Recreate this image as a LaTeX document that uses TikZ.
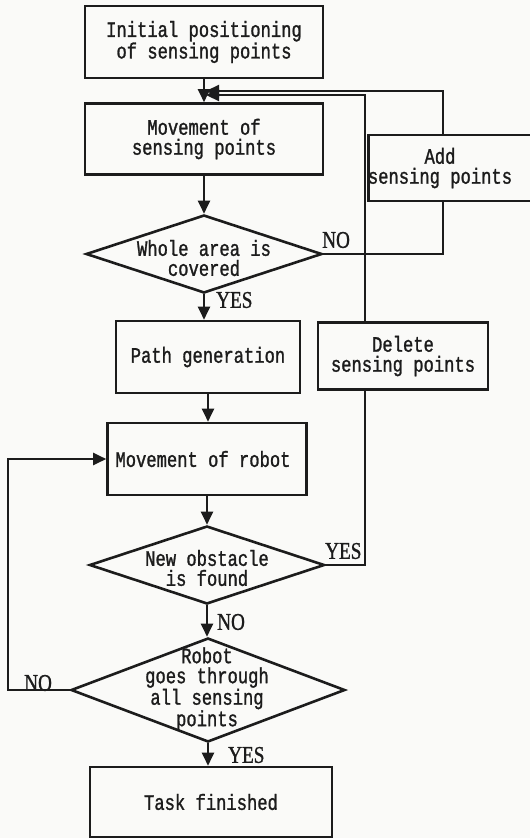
\documentclass[tikz,border=0pt]{standalone}
\usepackage{fontspec}
\newfontfamily\diagfont[FakeStretch=0.78,FakeBold=1.2]{Liberation Mono}
\newfontfamily\lblfont[FakeStretch=0.8,FakeBold=1]{Liberation Serif}
\usetikzlibrary{shapes.geometric,arrows.meta}
\definecolor{ink}{RGB}{28,28,28}
\definecolor{paper}{RGB}{250,250,248}
\begin{document}
\begin{tikzpicture}[x=1pt,y=-1pt,
  txt/.style={font={\diagfont\fontsize{22}{20}\selectfont}, text=ink, align=center, inner sep=0pt},
  procbox/.style={txt, draw=ink, line width=2.6pt},
  decision/.style={draw=ink, line width=2.6pt, shape=diamond, inner sep=0pt},
  conn/.style={draw=ink, line width=2.2pt},
  arr/.style={conn, -{Triangle[length=13pt,width=12pt]}},
  lbl/.style={font={\lblfont\fontsize{24}{24}\selectfont}, text=ink, inner sep=0pt, anchor=west}
]
\useasboundingbox (0,0) rectangle (530,838);
\fill[paper] (0,0) rectangle (530,838);

\node[procbox, minimum width=238pt, minimum height=72pt] (init) at (204,42) {Initial positioning\\of sensing points};
\node[procbox, minimum width=238pt, minimum height=71pt] (msp) at (204,139) {Movement of\\sensing points};
\node[procbox, minimum width=170pt, minimum height=66pt, anchor=west] (add) at (367,168) {};
\node[txt] (addtxt) at (440,168) {Add\\sensing points};
\node[decision, minimum width=236pt, minimum height=78pt] (cov) at (204,254) {};
\node[txt] (covtxt) at (204,258) {Whole area is\\covered};
\node[procbox, minimum width=184pt, minimum height=72pt] (path) at (208,357) {Path generation};
\node[procbox, minimum width=170pt, minimum height=67pt] (del) at (403,356) {Delete\\sensing points};
\node[procbox, minimum width=199pt, minimum height=72pt] (robot) at (207,459) {Movement of robot\hspace*{8pt}};
\node[decision, minimum width=235pt, minimum height=78pt] (obs) at (207,565) {};
\node[txt] (obstxt) at (207,568) {New obstacle\\is found};
\node[decision, minimum width=274pt, minimum height=104pt] (all) at (208,690) {};
\node[txt] (alltxt) at (207,689) {Robot\\goes through\\all sensing\\points};
\node[procbox, minimum width=242pt, minimum height=70pt] (task) at (211,802) {Task finished};

\coordinate (j1) at (206,91);
\coordinate (j2) at (206,95);

\draw[arr] (init) -- (msp);
\draw[arr] (msp) -- (cov);
\draw[conn] (cov.east) -| ([xshift=-10pt]add.south);
\draw[arr] ([xshift=-10pt]add.north) |- (j1);
\draw[arr] (cov.south) -- (cov.south |- path.north);
\draw[arr] (path.south) -- (path.south |- robot.north);
\draw[arr] (robot.south) -- (robot.south |- obs.north);
\draw[conn] (obs.east) -| ([xshift=-38pt]del.south);
\draw[arr] ([xshift=-38pt]del.north) |- (j2);
\draw[arr] (obs.south) -- (obs.south |- all.north);
\draw[arr] (all.south) -- (all.south |- task.north);
\draw[arr] (all.west) -- ++(-62pt,0) |- (robot.west);

\node[lbl] (l1) at (322,240) {NO};
\node[lbl] (l2) at (216,300) {YES};
\node[lbl] (l3) at (325,551) {YES};
\node[lbl] (l4) at (217,622) {NO};
\node[lbl] (l5) at (24,683) {NO};
\node[lbl] (l6) at (228,755) {YES};
\end{tikzpicture}
\end{document}
